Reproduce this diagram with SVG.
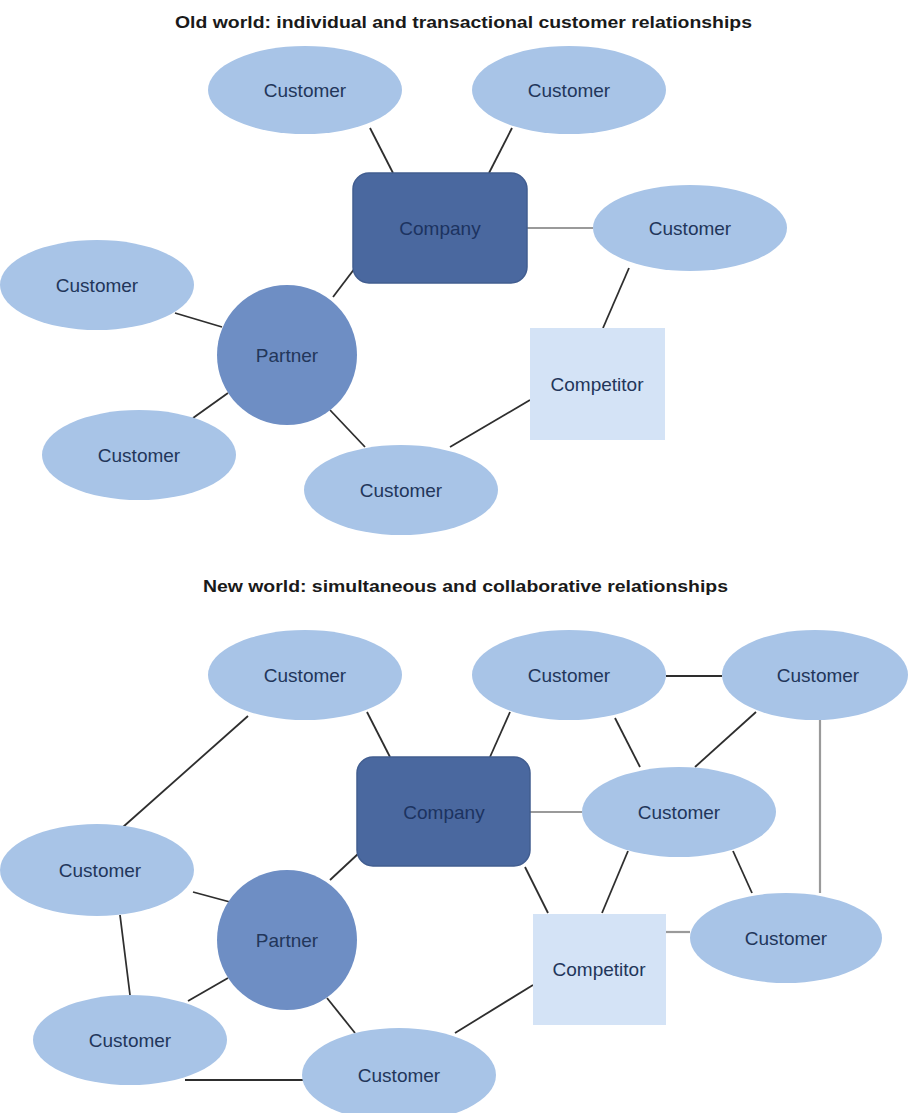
<svg xmlns="http://www.w3.org/2000/svg" width="908" height="1113" viewBox="0 0 908 1113">
<style>
.cust{fill:#a8c4e7;}
.partner{fill:#6e8ec4;}
.company{fill:#4a689f;stroke:#415d90;stroke-width:1.5;}
.comp{fill:#d4e3f6;}
.lbl{font-family:"Liberation Sans",Arial,sans-serif;font-size:19px;fill:#22365a;text-anchor:middle;dominant-baseline:central;}
.title{font-family:"Liberation Sans",Arial,sans-serif;font-weight:bold;fill:#1a1a1a;}
.e{stroke:#2e2e2e;stroke-width:1.8;fill:none;}
.g{stroke:#9a9a9a;stroke-width:2.2;fill:none;}
</style>
<rect width="908" height="1113" fill="#ffffff"/>
<text class="title" x="175" y="28" font-size="17" textLength="577" lengthAdjust="spacingAndGlyphs">Old world: individual and transactional customer relationships</text>
<text class="title" x="203" y="592" font-size="16" textLength="525" lengthAdjust="spacingAndGlyphs">New world: simultaneous and collaborative relationships</text>
<g id="connectors">
<!-- old world -->
<line class="e" x1="370" y1="128" x2="393" y2="173"/>
<line class="e" x1="512" y1="128" x2="489" y2="173"/>
<line class="g" x1="527" y1="228" x2="593" y2="228"/>
<line class="e" x1="355" y1="268" x2="333" y2="297"/>
<line class="e" x1="629" y1="268" x2="603" y2="328"/>
<line class="e" x1="175" y1="313" x2="222" y2="327"/>
<line class="e" x1="193" y1="418" x2="228" y2="393"/>
<line class="e" x1="330" y1="410" x2="365" y2="447"/>
<line class="e" x1="530" y1="400" x2="450" y2="447"/>
<!-- new world -->
<line class="e" x1="367" y1="712" x2="390" y2="757"/>
<line class="e" x1="248" y1="716" x2="123" y2="827"/>
<line class="e" x1="510" y1="712" x2="490" y2="757"/>
<line class="e" x1="666" y1="676" x2="722" y2="676"/>
<line class="e" x1="615" y1="718" x2="640" y2="767"/>
<line class="e" x1="756" y1="712" x2="695" y2="767"/>
<line class="g" x1="820" y1="720" x2="820" y2="893"/>
<line class="g" x1="530" y1="812" x2="582" y2="812"/>
<line class="e" x1="525" y1="867" x2="548" y2="913"/>
<line class="e" x1="628" y1="851" x2="602" y2="913"/>
<line class="e" x1="733" y1="851" x2="752" y2="893"/>
<line class="g" x1="666" y1="932" x2="690" y2="932"/>
<line class="e" x1="359" y1="853" x2="330" y2="880"/>
<line class="e" x1="193" y1="892" x2="230" y2="902"/>
<line class="e" x1="120" y1="915" x2="130" y2="995"/>
<line class="e" x1="188" y1="1001" x2="228" y2="978"/>
<line class="e" x1="327" y1="998" x2="355" y2="1033"/>
<line class="e" x1="533" y1="985" x2="455" y2="1033"/>
<line class="e" x1="185" y1="1080" x2="305" y2="1080"/>
</g>
<!-- old world nodes -->
<g id="o-cust1"><ellipse class="cust" cx="305" cy="90" rx="97" ry="44"/><text class="lbl" x="305" y="90">Customer</text></g>
<g id="o-cust2"><ellipse class="cust" cx="569" cy="90" rx="97" ry="44"/><text class="lbl" x="569" y="90">Customer</text></g>
<g id="o-company"><rect class="company" x="353" y="173" width="174" height="110" rx="16"/><text class="lbl" x="440" y="228" fill="#1c3360" style="fill:#1c3360">Company</text></g>
<g id="o-cust3"><ellipse class="cust" cx="690" cy="228" rx="97" ry="43"/><text class="lbl" x="690" y="228">Customer</text></g>
<g id="o-cust4"><ellipse class="cust" cx="97" cy="285" rx="97" ry="45"/><text class="lbl" x="97" y="285">Customer</text></g>
<g id="o-partner"><circle class="partner" cx="287" cy="355" r="70"/><text class="lbl" x="287" y="355">Partner</text></g>
<g id="o-competitor"><rect class="comp" x="530" y="328" width="135" height="112"/><text class="lbl" x="597" y="384">Competitor</text></g>
<g id="o-cust5"><ellipse class="cust" cx="139" cy="455" rx="97" ry="45"/><text class="lbl" x="139" y="455">Customer</text></g>
<g id="o-cust6"><ellipse class="cust" cx="401" cy="490" rx="97" ry="45"/><text class="lbl" x="401" y="490">Customer</text></g>
<!-- new world nodes -->
<g id="n-custA"><ellipse class="cust" cx="305" cy="675" rx="97" ry="45"/><text class="lbl" x="305" y="675">Customer</text></g>
<g id="n-custB"><ellipse class="cust" cx="569" cy="675" rx="97" ry="45"/><text class="lbl" x="569" y="675">Customer</text></g>
<g id="n-custC"><ellipse class="cust" cx="815" cy="675" rx="93" ry="45"/><text class="lbl" x="818" y="675">Customer</text></g>
<g id="n-company"><rect class="company" x="357" y="757" width="173" height="109" rx="16"/><text class="lbl" x="444" y="812" style="fill:#1c3360">Company</text></g>
<g id="n-custD"><ellipse class="cust" cx="679" cy="812" rx="97" ry="45"/><text class="lbl" x="679" y="812">Customer</text></g>
<g id="n-custE"><ellipse class="cust" cx="97" cy="870" rx="97" ry="46"/><text class="lbl" x="100" y="870">Customer</text></g>
<g id="n-partner"><circle class="partner" cx="287" cy="940" r="70"/><text class="lbl" x="287" y="940">Partner</text></g>
<g id="n-competitor"><rect class="comp" x="533" y="914" width="133" height="111"/><text class="lbl" x="599" y="969">Competitor</text></g>
<g id="n-custF"><ellipse class="cust" cx="786" cy="938" rx="96" ry="45"/><text class="lbl" x="786" y="938">Customer</text></g>
<g id="n-custG"><ellipse class="cust" cx="130" cy="1040" rx="97" ry="45"/><text class="lbl" x="130" y="1040">Customer</text></g>
<g id="n-custH"><ellipse class="cust" cx="399" cy="1075" rx="97" ry="47"/><text class="lbl" x="399" y="1075">Customer</text></g>
</svg>
